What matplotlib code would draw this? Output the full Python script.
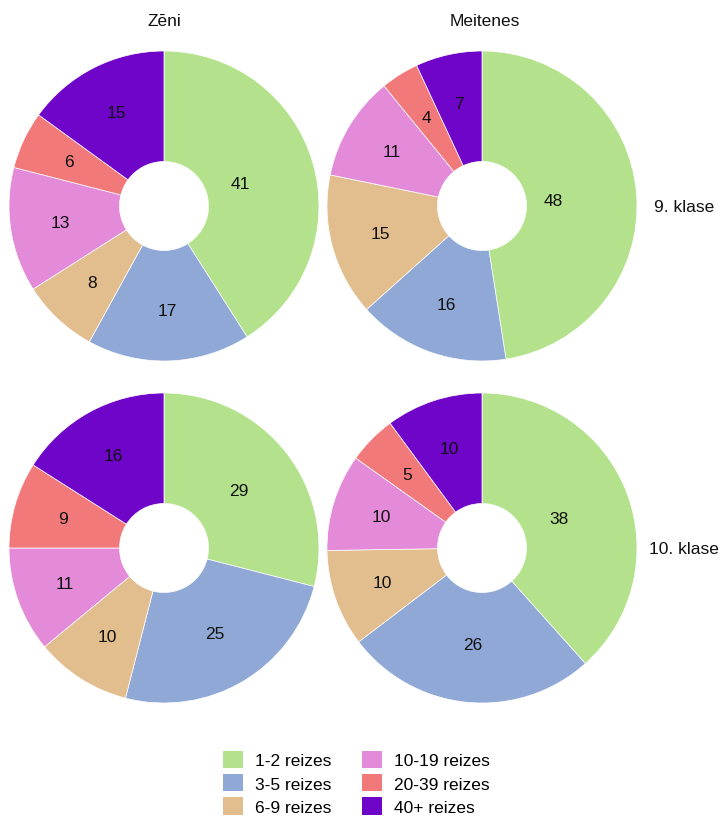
import matplotlib
matplotlib.use("Agg")
import matplotlib.pyplot as plt
from matplotlib.patches import Patch
import numpy as np

plt.rcParams['font.family'] = ['Liberation Sans', 'DejaVu Sans']

categories = ["1-2 reizes", "3-5 reizes", "6-9 reizes", "10-19 reizes", "20-39 reizes", "40+ reizes"]
colors = ["#b4e28c", "#8fa8d5", "#e2bd8e", "#e38ad8", "#f27979", "#6e05c8"]
col_titles = ["Zēni", "Meitenes"]
row_titles = ["9. klase", "10. klase"]

boys_9 = [41, 17, 8, 13, 6, 15]
girls_9 = [48, 16, 15, 11, 4, 7]
boys_10 = [29, 25, 10, 11, 9, 16]
girls_10 = [38, 26, 10, 10, 5, 10]
grid = [[boys_9, girls_9], [boys_10, girls_10]]

W, H = 724, 820
fig = plt.figure(figsize=(W / 100, H / 100), dpi=100)
ax = fig.add_axes([0, 0, 1, 1])

R = 155
HOLE = 44.5
col_x = [164, 482]
row_y = [207, 549]
fs = 12.5

for i, row in enumerate(grid):
    for j, vals in enumerate(row):
        cx, cy = col_x[j], H - row_y[i]
        wedges, _ = ax.pie(vals, colors=colors, startangle=90, counterclock=False,
                           radius=R, center=(cx, cy), normalize=True,
                           wedgeprops=dict(width=R - HOLE, edgecolor="white", linewidth=0.5))
        total = float(sum(vals))
        for w, v in zip(wedges, vals):
            frac = v / total
            mid = np.deg2rad((w.theta1 + w.theta2) / 2)
            rl = 105 if frac < 0.2 else 105 - 121 * (frac - 0.2)
            ax.text(cx + rl * np.cos(mid), cy + rl * np.sin(mid), str(v),
                    ha="center", va="center", fontsize=fs, color="#111111")

for j, t in enumerate(col_titles):
    ax.text(col_x[j] + (3 if j == 1 else 0), H - 22, t, ha="center", va="center",
            fontsize=fs, color="#111111")
for i, t in enumerate(row_titles):
    ax.text(684, H - row_y[i], t, ha="center", va="center", fontsize=fs, color="#111111")

ax.set_xlim(0, W)
ax.set_ylim(0, H)
ax.set_aspect("equal")
ax.axis("off")

handles = [Patch(facecolor=c, edgecolor="none", label=l) for c, l in zip(colors, categories)]
fig.legend(handles=handles, ncol=2, loc="upper left",
           bbox_to_anchor=(223 / W, 1 - 752 / H), frameon=False, fontsize=fs,
           handlelength=1.15, handleheight=1.15, handletextpad=0.7,
           labelspacing=0.33, columnspacing=1.75, borderpad=0, borderaxespad=0)

fig.savefig("out.png", dpi=100)
